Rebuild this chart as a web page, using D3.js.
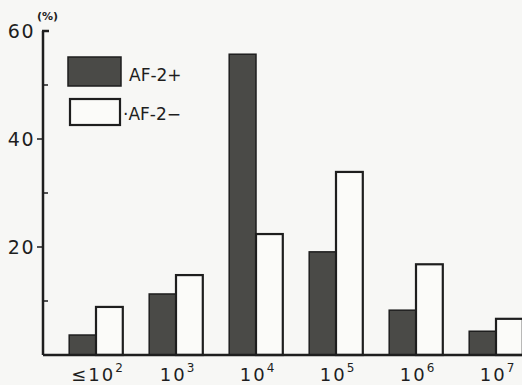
<!DOCTYPE html>
<meta charset="utf-8">
<style>
  body { margin: 0; background: #f7f7f5; }
  svg { display: block; font-family: "DejaVu Sans", sans-serif; }
</style>
<body>
<div id="chart"></div>
<script src="https://d3js.org/d3.v7.min.js"></script>
<script>
const categories = ["≤10|2", "10|3", "10|4", "10|5", "10|6", "10|7"];
const afPlus = [3.7, 11.3, 55.7, 19.1, 8.3, 4.4];
const afMinus = [8.9, 14.8, 22.4, 33.9, 16.8, 6.7];
const seriesNames = ["AF-2+", "AF-2−"];
const majorTicks = [20, 40, 60];
const minorTicks = [10, 30, 50];

const width = 522, height = 385;
const svg = d3.select("#chart").append("svg")
  .attr("width", width).attr("height", height);

const y = d3.scaleLinear().domain([0, 60]).range([355, 31]);
const x = d3.scaleBand().domain(categories).range([56, 536])
  .paddingInner(0.33).paddingOuter(0.165);
const xs = d3.scaleBand().domain([0, 1]).range([0, x.bandwidth()]);

const ink = "#1e1e1e";
const dark = "#4a4a47";

// bars
const groups = svg.selectAll("g.grp").data(categories).join("g")
  .attr("class", "grp")
  .attr("transform", d => `translate(${x(d)},0)`);

groups.append("rect")
  .attr("x", xs(0)).attr("width", xs.bandwidth())
  .attr("y", (d, i) => y(afPlus[i]))
  .attr("height", (d, i) => y(0) - y(afPlus[i]))
  .attr("fill", dark).attr("stroke", ink).attr("stroke-width", 1.5);

groups.append("rect")
  .attr("x", xs(1)).attr("width", xs.bandwidth())
  .attr("y", (d, i) => y(afMinus[i]))
  .attr("height", (d, i) => y(0) - y(afMinus[i]))
  .attr("fill", "#fbfbf9").attr("stroke", ink).attr("stroke-width", 2.2);

// axes
svg.append("line").attr("x1", 43).attr("x2", 43)
  .attr("y1", y(60)).attr("y2", y(0))
  .attr("stroke", ink).attr("stroke-width", 2.5);
svg.append("line").attr("x1", 43).attr("x2", width)
  .attr("y1", y(0)).attr("y2", y(0))
  .attr("stroke", ink).attr("stroke-width", 2.5);
svg.append("line").attr("x1", 42).attr("x2", 49)
  .attr("y1", y(60)).attr("y2", y(60))
  .attr("stroke", ink).attr("stroke-width", 2.5);

svg.selectAll("line.maj").data(majorTicks.slice(0, 2)).join("line")
  .attr("x1", 37).attr("x2", 43)
  .attr("y1", d => y(d)).attr("y2", d => y(d))
  .attr("stroke", ink).attr("stroke-width", 1.5);
svg.selectAll("line.min").data(minorTicks).join("line")
  .attr("x1", 43).attr("x2", 48)
  .attr("y1", d => y(d)).attr("y2", d => y(d))
  .attr("stroke", ink).attr("stroke-width", 1.5);

svg.selectAll("text.yt").data(majorTicks).join("text")
  .attr("x", 35).attr("y", d => y(d) + 7)
  .attr("text-anchor", "end")
  .attr("font-size", 19).attr("letter-spacing", 1.5)
  .attr("fill", ink).text(d => d);

svg.append("text").attr("x", 37).attr("y", 20)
  .attr("font-size", 11).attr("font-weight", "bold")
  .attr("fill", ink).text("(%)");

// x labels
const xl = svg.selectAll("text.xl").data(categories).join("text")
  .attr("x", d => x(d) + x.bandwidth() / 2 + 2)
  .attr("y", 381)
  .attr("text-anchor", "middle")
  .attr("font-size", 18).attr("letter-spacing", 2)
  .attr("fill", ink);
xl.append("tspan").text(d => d.split("|")[0]);
xl.append("tspan").attr("dy", -9).attr("font-size", 12)
  .text(d => d.split("|")[1]);

// legend
svg.append("rect").attr("x", 68).attr("y", 57).attr("width", 53).attr("height", 29)
  .attr("fill", dark).attr("stroke", ink).attr("stroke-width", 1.5);
svg.append("rect").attr("x", 70).attr("y", 99).attr("width", 50).attr("height", 26)
  .attr("fill", "#fbfbf9").attr("stroke", ink).attr("stroke-width", 2.2);
svg.append("text").attr("x", 129).attr("y", 81)
  .attr("font-size", 17).attr("fill", ink).text(seriesNames[0]);
svg.append("text").attr("x", 123).attr("y", 120)
  .attr("font-size", 17).attr("fill", ink).text("·" + seriesNames[1]);
</script>
</body>
